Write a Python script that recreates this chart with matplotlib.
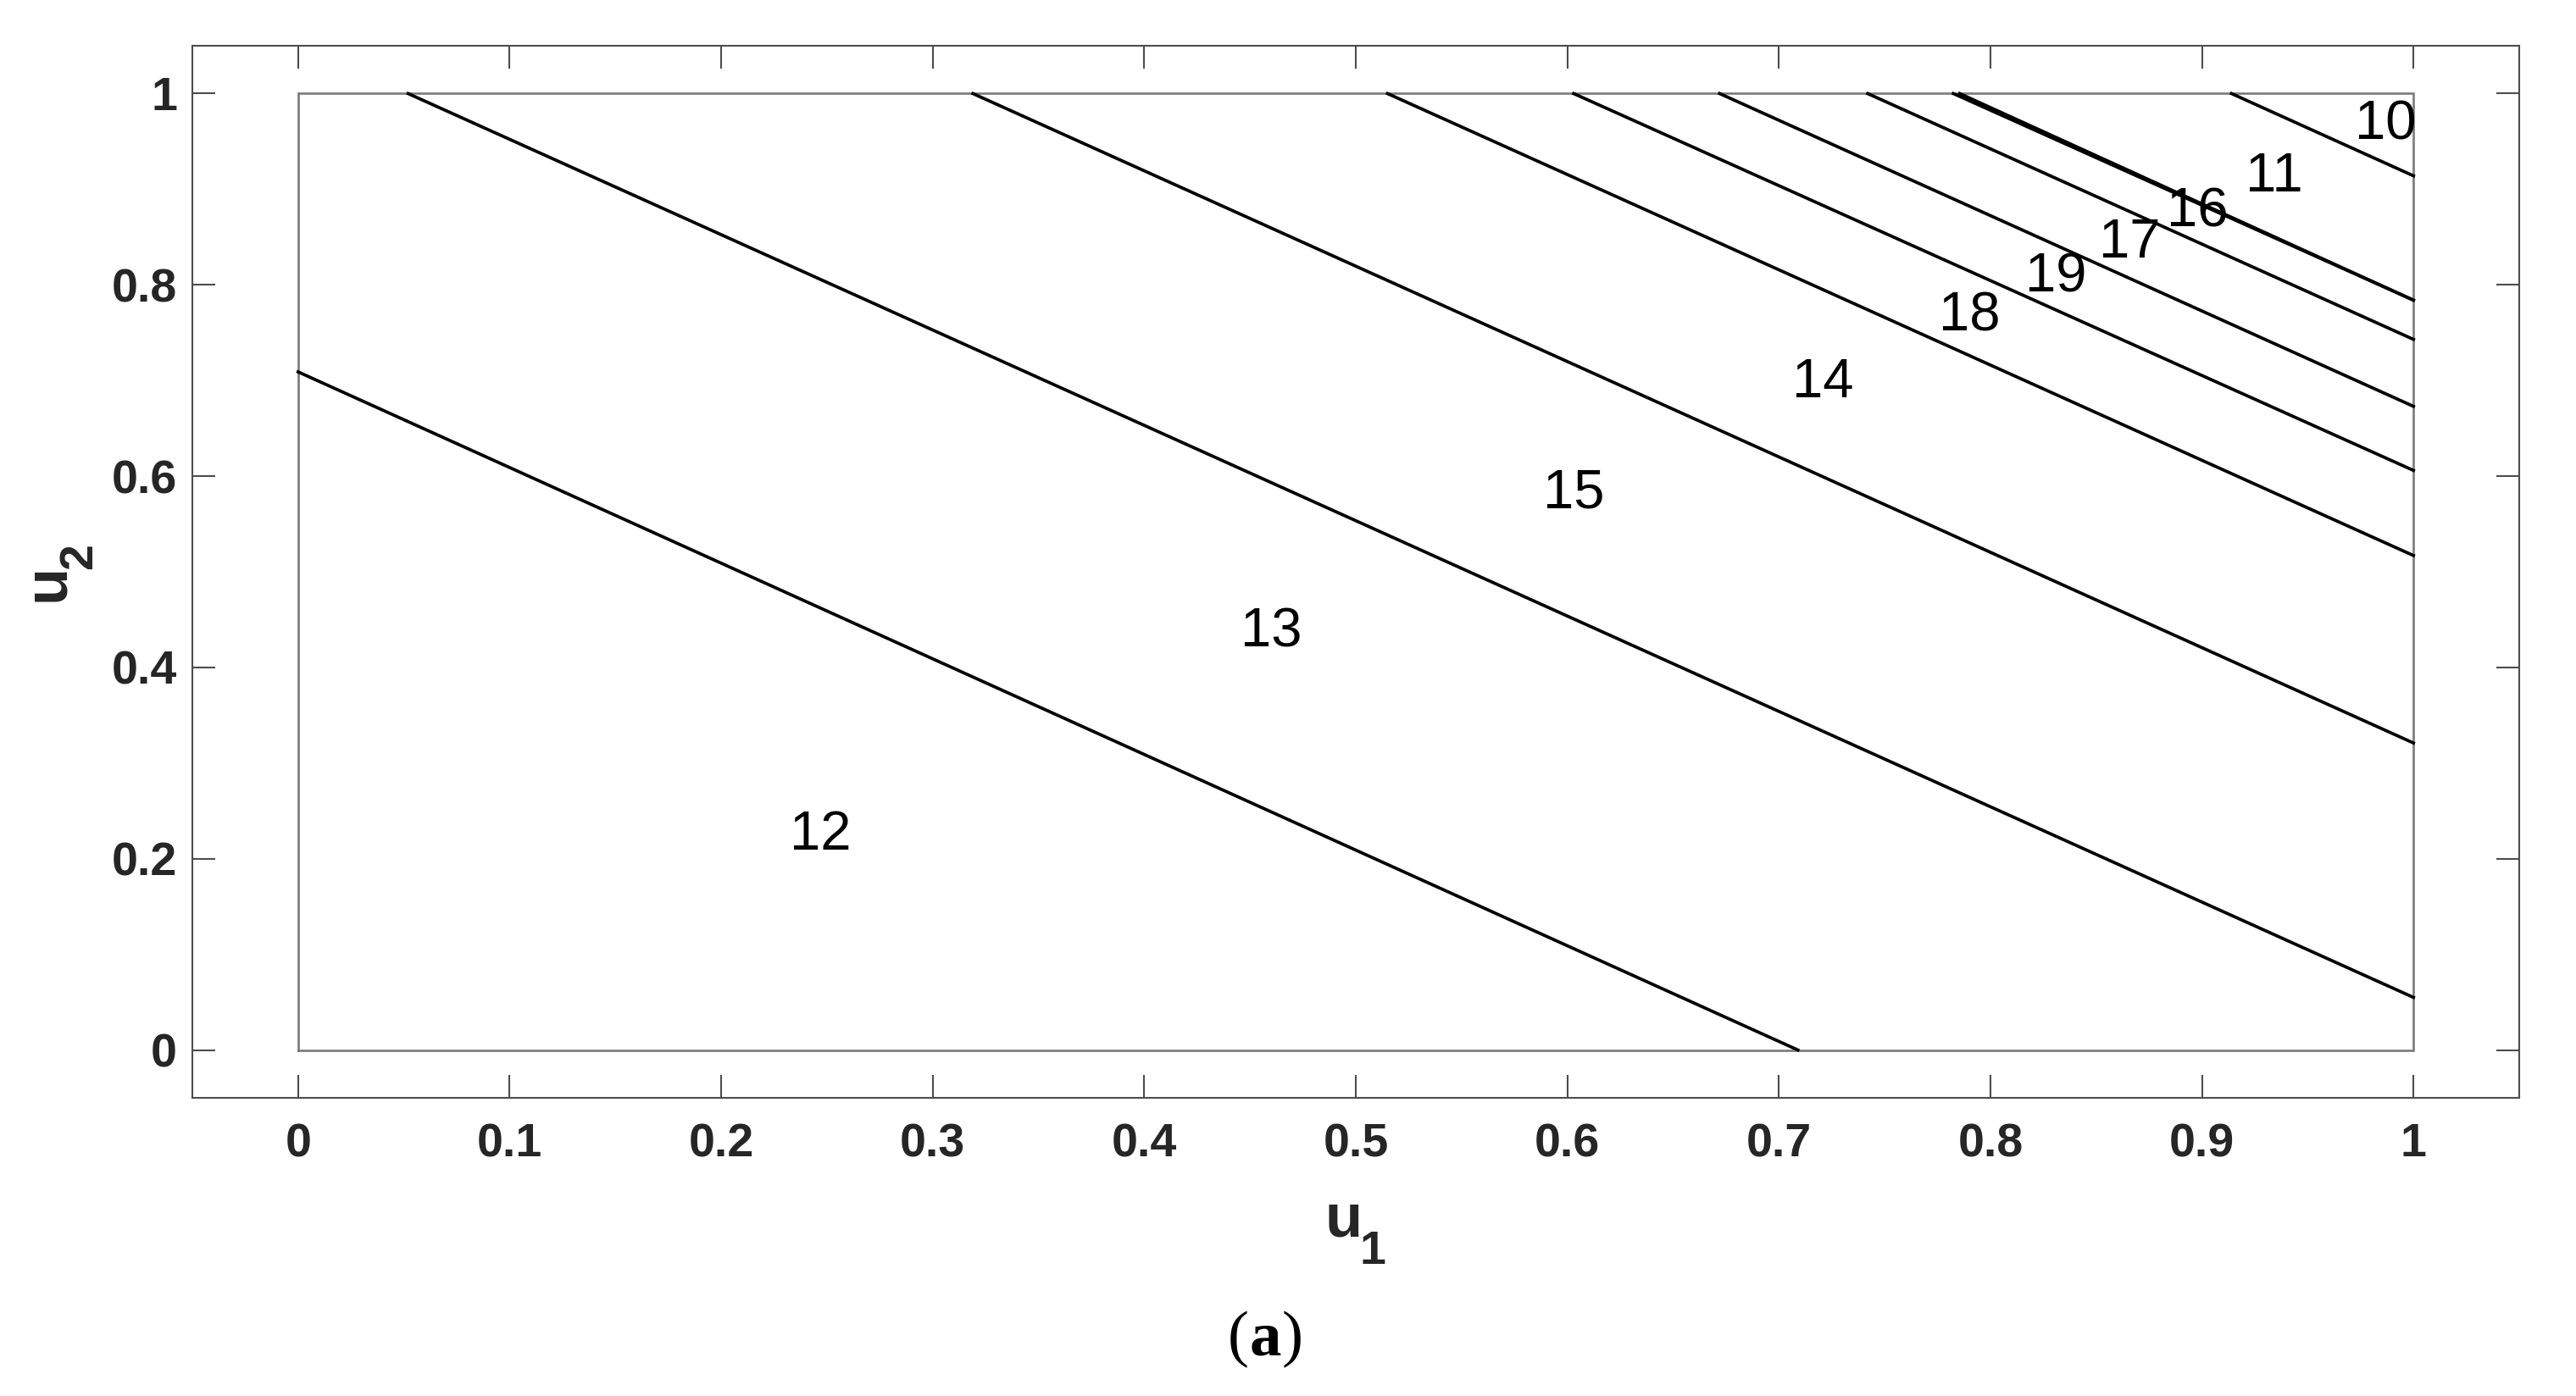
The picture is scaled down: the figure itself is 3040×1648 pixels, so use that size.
import matplotlib
matplotlib.use("Agg")
import matplotlib.pyplot as plt
import matplotlib.transforms as mtransforms

# ---- data ----
# each boundary line: start point (x, y) and end point (x, y)
line_x_start = [0.000, 0.052, 0.319, 0.515, 0.603, 0.672, 0.742, 0.7825, 0.7855, 0.914]
line_y_start = [0.709, 1.000, 1.000, 1.000, 1.000, 1.000, 1.000, 1.000, 1.000, 1.000]
line_x_end   = [0.709, 1.000, 1.000, 1.000, 1.000, 1.000, 1.000, 1.000, 1.000, 1.000]
line_y_end   = [0.000, 0.055, 0.321, 0.517, 0.606, 0.673, 0.743, 0.784, 0.784, 0.914]

# region labels
region_labels = ["12", "13", "15", "14", "18", "19", "17", "16", "11", "10"]
region_x = [0.247, 0.460, 0.603, 0.721, 0.790, 0.831, 0.866, 0.898, 0.934, 0.987]
region_y = [0.231, 0.443, 0.588, 0.704, 0.773, 0.814, 0.850, 0.882, 0.919, 0.973]

# domain box
box_x = [0, 1, 1, 0, 0]
box_y = [0, 0, 1, 1, 0]

x_ticks = [0, 0.1, 0.2, 0.3, 0.4, 0.5, 0.6, 0.7, 0.8, 0.9, 1]
x_tick_labels = ["0", "0.1", "0.2", "0.3", "0.4", "0.5", "0.6", "0.7", "0.8", "0.9", "1"]
y_ticks = [0, 0.2, 0.4, 0.6, 0.8, 1]
y_tick_labels = ["0", "0.2", "0.4", "0.6", "0.8", "1"]

# ---- style ----
plt.rcParams["font.family"] = ["Liberation Sans", "DejaVu Sans"]

W, H = 3040, 1648
DPI = 200
fig = plt.figure(figsize=(W / DPI, H / DPI), dpi=DPI)
ax = fig.add_axes([227 / W, 1 - 1296 / H, (2973 - 227) / W, (1296 - 54) / H])

spine_col = "#4d4d4d"
text_col = "#262626"

ax.plot(box_x, box_y, color="#7a7a7a", lw=0.95, solid_joinstyle="miter", zorder=2)

for xs, ys, xe, ye in zip(line_x_start, line_y_start, line_x_end, line_y_end):
    ax.plot([xs, xe], [ys, ye], color="black", lw=1.35, zorder=3)

lab_tr = mtransforms.offset_copy(ax.transData, fig=fig, x=0, y=-2.5, units="points")
for lab, x, y in zip(region_labels, region_x, region_y):
    ax.text(x, y, lab, ha="center", va="center", fontsize=23.5, color="black",
            transform=lab_tr, zorder=4)

ax.set_xlim(-0.05, 1.05)
ax.set_ylim(-0.05, 1.05)
ax.set_xticks(x_ticks)
ax.set_xticklabels(x_tick_labels)
ax.set_yticks(y_ticks)
ax.set_yticklabels(y_tick_labels)

for s in ax.spines.values():
    s.set_color(spine_col)
    s.set_linewidth(0.75)

ax.tick_params(axis="both", which="major", direction="in", length=9.7, width=0.75,
               color=spine_col, top=True, right=True, labelcolor=text_col,
               labelsize=20)
ax.tick_params(axis="x", pad=10.5)
ax.tick_params(axis="y", pad=6.5)
for lab in ax.get_xticklabels() + ax.get_yticklabels():
    lab.set_fontweight("bold")


def px(x, y):
    """full-size pixel position -> figure fraction"""
    return x / W, 1 - y / H


# axis label u_1 (main letter + lowered subscript)
fig.text(*px(1563, 1460), "u", ha="left", va="baseline", fontsize=26,
         fontweight="bold", color=text_col)
fig.text(*px(1604, 1492), "1", ha="left", va="baseline", fontsize=20,
         fontweight="bold", color=text_col)

# axis label u_2 (rotated)
fig.text(*px(75, 710), "u", ha="left", va="baseline", rotation=90,
         rotation_mode="anchor", fontsize=26, fontweight="bold", color=text_col)
fig.text(*px(108, 672), "2", ha="left", va="baseline", rotation=90,
         rotation_mode="anchor", fontsize=20, fontweight="bold", color=text_col)

# caption "(a)" with bold a and regular parentheses
fig.canvas.draw()
renderer = fig.canvas.get_renderer()
cx, cy = px(1493, 1581)
ta = fig.text(cx, cy, "a", ha="center", va="center", fontsize=27,
              family="Liberation Serif", fontweight="bold", color="black")
bb = ta.get_window_extent(renderer=renderer)
fig.text((bb.x0 - 1) / W, cy, "(", ha="right", va="center", fontsize=27,
         family="Liberation Serif", color="black")
fig.text((bb.x1 + 1) / W, cy, ")", ha="left", va="center", fontsize=27,
         family="Liberation Serif", color="black")

fig.savefig("out.png", dpi=DPI, facecolor="white")
